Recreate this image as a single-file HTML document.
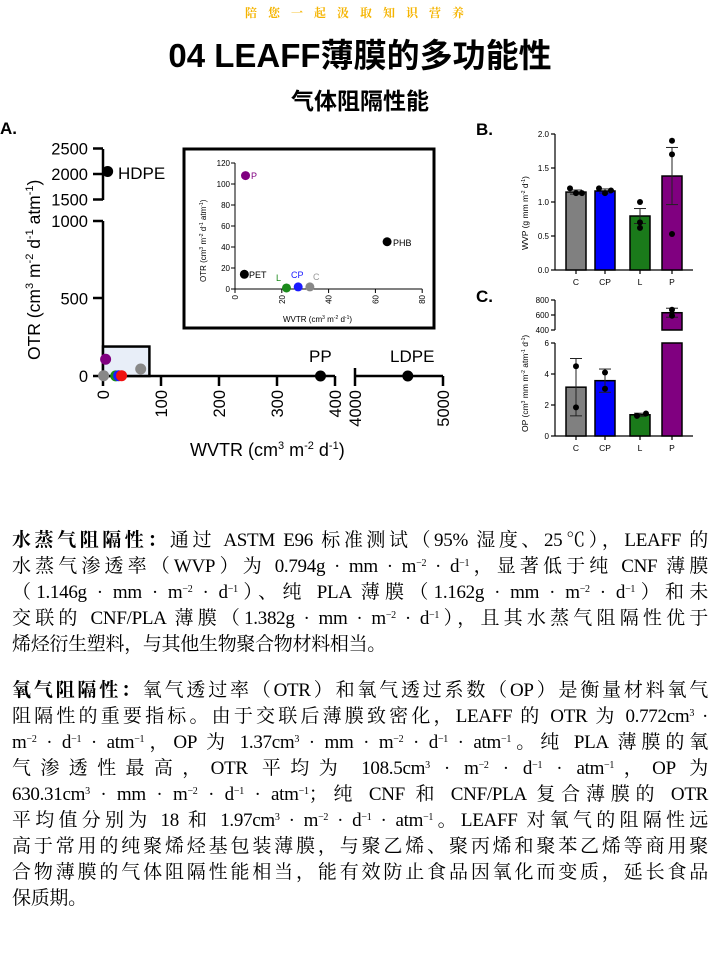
<!DOCTYPE html>
<html><head><meta charset="utf-8">
<style>
body{margin:0;width:720px;height:960px;background:#fff;overflow:hidden;position:relative;font-family:"Liberation Sans","Noto Sans CJK SC",sans-serif}
.top{position:absolute;top:4px;left:0;width:720px;text-align:center;color:#f5b400;font-size:12px;font-weight:bold;letter-spacing:11px;font-family:"Liberation Serif","Noto Serif CJK SC",serif}
.h1{position:absolute;top:29px;left:0;width:720px;text-align:center;font-size:33px;font-weight:bold;font-family:"Liberation Sans","Noto Sans CJK SC",sans-serif}
.h2{position:absolute;top:82px;left:0;width:720px;text-align:center;font-size:23px;font-weight:bold}
.p{position:absolute;left:12px;width:696px;font-family:"Liberation Serif","Noto Serif CJK SC",serif;font-size:19px;line-height:26px;color:#000}
.p div{text-align:justify;text-align-last:justify;white-space:nowrap;height:26px;letter-spacing:-0.3px}
.p div.last{text-align-last:left}
sup{font-size:10px;vertical-align:6px;line-height:0}
svg text{font-family:"Liberation Sans",sans-serif}
</style></head><body>
<div class="top">陪您一起汲取知识营养</div>
<div class="h1">04 LEAFF薄膜的多功能性</div>
<div class="h2">气体阻隔性能</div>

<svg id="chart" width="720" height="480" style="position:absolute;left:0;top:0"></svg>

<div class="p" style="top:528px">
<div><b>水蒸气阻隔性：</b>通过 ASTM E96 标准测试（95% 湿度、25℃），LEAFF 的</div>
<div>水蒸气渗透率（WVP）为 0.794g · mm · m<sup>−2</sup> · d<sup>−1</sup>，显著低于纯 CNF 薄膜</div>
<div>（1.146g · mm · m<sup>−2</sup> · d<sup>−1</sup>）、纯 PLA 薄膜（1.162g · mm · m<sup>−2</sup> · d<sup>−1</sup>）和未</div>
<div>交联的 CNF/PLA 薄膜（1.382g · mm · m<sup>−2</sup> · d<sup>−1</sup>），且其水蒸气阻隔性优于</div>
<div class="last">烯烃衍生塑料，与其他生物聚合物材料相当。</div>
</div>
<div class="p" style="top:678px">
<div><b>氧气阻隔性：</b>氧气透过率（OTR）和氧气透过系数（OP）是衡量材料氧气</div>
<div>阻隔性的重要指标。由于交联后薄膜致密化，LEAFF 的 OTR 为 0.772cm<sup>3</sup> ·</div>
<div>m<sup>−2</sup> · d<sup>−1</sup> · atm<sup>−1</sup>，OP 为 1.37cm<sup>3</sup> · mm · m<sup>−2</sup> · d<sup>−1</sup> · atm<sup>−1</sup>。纯 PLA 薄膜的氧</div>
<div>气渗透性最高，OTR 平均为 108.5cm<sup>3</sup> · m<sup>−2</sup> · d<sup>−1</sup> · atm<sup>−1</sup>，OP 为</div>
<div>630.31cm<sup>3</sup> · mm · m<sup>−2</sup> · d<sup>−1</sup> · atm<sup>−1</sup>；纯 CNF 和 CNF/PLA 复合薄膜的 OTR</div>
<div>平均值分别为 18 和 1.97cm<sup>3</sup> · m<sup>−2</sup> · d<sup>−1</sup> · atm<sup>−1</sup>。LEAFF 对氧气的阻隔性远</div>
<div>高于常用的纯聚烯烃基包装薄膜，与聚乙烯、聚丙烯和聚苯乙烯等商用聚</div>
<div>合物薄膜的气体阻隔性能相当，能有效防止食品因氧化而变质，延长食品</div>
<div class="last">保质期。</div>
</div>

<script>
// Panel A main scatter
const aNames = ["HDPE","PP","LDPE","P","C0","L","CP","C","PHB"];
const aWVTR = [8, 375, 4600, 4.5, 1, 22, 27, 32, 65];
const aOTR = [2050, 0, 0, 108, 2, 1, 2, 2, 45];
const aColors = ["#000","#000","#000","#800080","#888","#1a8a1a","#1a1aff","#f01010","#888"];
// Inset
const inNames = ["P","PHB","PET","L","CP","C"];
const inWVTR = [4.5, 65, 4, 22, 27, 32];
const inOTR = [108, 45, 14, 1, 2, 2];
const inColors = ["#800080","#000","#000","#1a8a1a","#1a1aff","#888"];
const inLabelColors = ["#800080","#000","#000","#1a8a1a","#1a1aff","#999"];
// Panel B
const bCats = ["C","CP","L","P"];
const bVals = [1.146, 1.162, 0.794, 1.382];
const bErr = [0.03, 0.03, 0.11, 0.42];
const bDots = [[1.2,1.13,1.13],[1.2,1.13,1.17],[1.0,0.7,0.62],[1.9,1.7,0.53]];
const barColors = ["#808080","#0000ff","#1a7a1a","#800080"];
const bTicks = [0,0.5,1.0,1.5,2.0];
// Panel C
const cVals = [3.15, 3.57, 1.37, 630.31];
const cErr = [1.85, 0.75, 0.1, 60];
const cDots = [[4.5,1.85],[4.1,3.05],[1.3,1.45],[670,590]];
const cLowTicks = [0,2,4,6];
const cHighTicks = [400,600,800];

const svg = document.getElementById('chart');
const NS = "http://www.w3.org/2000/svg";
function el(tag, attrs, parent){const e=document.createElementNS(NS,tag);for(const k in attrs)e.setAttribute(k,attrs[k]);(parent||svg).appendChild(e);return e;}
function txt(x,y,s,size,opts){const t=el('text',Object.assign({x:x,y:y,'font-size':size},opts||{}));t.textContent=s;return t;}

// ---------- Panel A ----------
txt(0,134,"A.",17,{'font-weight':'bold'});
const axA = x=> x<=400 ? 103 + x*0.58 : 355 + (x-4000)*0.088;
const ayA = y=> y<=1000 ? 376 - y*0.155 : 174 - (y-2000)*0.051;
const g = el('g',{stroke:'#000','stroke-width':2.5,fill:'none'});


el('line',{x1:103,y1:221,x2:103,y2:376},g);
el('line',{x1:93,y1:221,x2:103,y2:221},g);
el('line',{x1:93,y1:298,x2:103,y2:298},g);
el('line',{x1:93,y1:376,x2:335,y2:376},g);
el('line',{x1:103,y1:149,x2:103,y2:200},g);
[2500,2000,1500].forEach(v=>el('line',{x1:93,y1:ayA(v),x2:103,y2:ayA(v)},g));
[0,100,200,300,400].forEach(v=>el('line',{x1:axA(v),y1:376,x2:axA(v),y2:386},g));
el('line',{x1:355,y1:376,x2:443,y2:376},g);
el('line',{x1:355,y1:368,x2:355,y2:386},g);
el('line',{x1:443,y1:376,x2:443,y2:386},g);
[[2500,"2500"],[2000,"2000"],[1500,"1500"],[1000,"1000"],[500,"500"],[0,"0"]].forEach(([v,s])=>txt(88,ayA(v)+6,s,16.5,{'text-anchor':'end'}));
[[0,"0"],[100,"100"],[200,"200"],[300,"300"],[400,"400"],[4000,"4000"],[5000,"5000"]].forEach(([v,s])=>{
  const x=axA(v)+6;txt(x,390,s,16.5,{'text-anchor':'end',transform:`rotate(-90 ${x} 390)`});});
const yl=el('text',{x:0,y:0,'font-size':17.5,transform:'translate(40 360) rotate(-90)'});
yl.innerHTML='OTR (cm<tspan dy="-7" font-size="11">3</tspan><tspan dy="7"> m</tspan><tspan dy="-7" font-size="11">-2</tspan><tspan dy="7"> d</tspan><tspan dy="-7" font-size="11">-1</tspan><tspan dy="7"> atm</tspan><tspan dy="-7" font-size="11">-1</tspan><tspan dy="7">)</tspan>';
const xl=el('text',{x:190,y:456,'font-size':18});
xl.innerHTML='WVTR (cm<tspan dy="-7" font-size="11">3</tspan><tspan dy="7"> m</tspan><tspan dy="-7" font-size="11">-2</tspan><tspan dy="7"> d</tspan><tspan dy="-7" font-size="11">-1</tspan><tspan dy="7">)</tspan>';
// zoom box (0-80 x 0-190)
const zb=el('rect',{x:axA(0),y:ayA(190),width:axA(80)-axA(0),height:ayA(0)-ayA(190),fill:'#e8eef8',stroke:'#000','stroke-width':2.5});


const order=[4,3,5,6,7,8,0,1,2];
order.forEach(i=>{
  const c=el('circle',{cx:axA(aWVTR[i]),cy:ayA(aOTR[i]),r:5.5,fill:aColors[i]});
  
  
});
txt(118,179,"HDPE",17);
txt(309,362,"PP",17);
txt(390,362,"LDPE",17);

// Inset
const ib=el('rect',{x:184,y:149,width:250,height:179,fill:'#fff',stroke:'#000','stroke-width':3});


const ix=x=>235+x*2.34, iy=y=>289-y*1.05;
const ig=el('g',{stroke:'#000','stroke-width':1,fill:'none'});
el('line',{x1:235,y1:iy(120),x2:235,y2:289},ig);
el('line',{x1:235,y1:289,x2:ix(80),y2:289},ig);
[0,20,40,60,80,100,120].forEach(v=>{el('line',{x1:231,y1:iy(v),x2:235,y2:iy(v)},ig);txt(230,iy(v)+3,String(v),8,{'text-anchor':'end'});});
[0,20,40,60,80].forEach(v=>{el('line',{x1:ix(v),y1:289,x2:ix(v),y2:293},ig);const x=ix(v)+3;txt(x,295,String(v),8,{'text-anchor':'end',transform:`rotate(-90 ${x} 295)`});});
const iyl=el('text',{x:0,y:0,'font-size':8,transform:'translate(206 282) rotate(-90)'});
iyl.innerHTML='OTR (cm<tspan dy="-3" font-size="5">3</tspan><tspan dy="3"> m</tspan><tspan dy="-3" font-size="5">-2</tspan><tspan dy="3"> d</tspan><tspan dy="-3" font-size="5">-1</tspan><tspan dy="3"> atm</tspan><tspan dy="-3" font-size="5">-1</tspan><tspan dy="3">)</tspan>';
const ixl=el('text',{x:283,y:322,'font-size':8});
ixl.innerHTML='WVTR (cm<tspan dy="-3" font-size="5">3</tspan><tspan dy="3"> m</tspan><tspan dy="-3" font-size="5">-2</tspan><tspan dy="3"> d</tspan><tspan dy="-3" font-size="5">-1</tspan><tspan dy="3">)</tspan>';
inNames.forEach((n,i)=>{
  const c=el('circle',{cx:ix(inWVTR[i]),cy:iy(inOTR[i]),r:4.5,fill:inColors[i]});
  
  
});
txt(251,179,"P",9,{fill:inLabelColors[0]});
txt(393,246,"PHB",9,{fill:'#000'});
txt(249,278,"PET",9,{fill:'#000'});
txt(276,281,"L",9,{fill:inLabelColors[3]});
txt(291,278,"CP",9,{fill:inLabelColors[4]});
txt(313,280,"C",9,{fill:inLabelColors[5]});

// ---------- Panel B ----------
txt(476,135,"B.",17,{'font-weight':'bold'});
const bx=[576,605,640,672];
const by=v=>270-v*68;
const bg=el('g',{stroke:'#000','stroke-width':1.2,fill:'none'});
el('line',{x1:555,y1:134,x2:555,y2:270},bg);
el('line',{x1:555,y1:270,x2:693,y2:270},bg);
bTicks.forEach(v=>{el('line',{x1:551,y1:by(v),x2:555,y2:by(v)},bg);txt(549,by(v)+3,v.toFixed(1),8,{'text-anchor':'end'});});
bCats.forEach((c,i)=>{
  el('line',{x1:bx[i],y1:270,x2:bx[i],y2:274},bg);
  txt(bx[i],285,c,8.5,{'text-anchor':'middle'});
  const r=el('rect',{x:bx[i]-10,y:by(bVals[i]),width:20,height:by(0)-by(bVals[i]),fill:barColors[i],stroke:'#000','stroke-width':1.5});
  
  
  const e=el('g',{stroke:'#222','stroke-width':1});
  el('line',{x1:bx[i],y1:by(bVals[i]+bErr[i]),x2:bx[i],y2:by(bVals[i]-bErr[i])},e);
  el('line',{x1:bx[i]-6,y1:by(bVals[i]+bErr[i]),x2:bx[i]+6,y2:by(bVals[i]+bErr[i])},e);
  el('line',{x1:bx[i]-6,y1:by(bVals[i]-bErr[i]),x2:bx[i]+6,y2:by(bVals[i]-bErr[i])},e);
  const offs=[-4,0,4];
  bDots[i].forEach((d,j)=>el('circle',{cx:bx[i]+offs[j]*(i<2?1.5:0),cy:by(d),r:3,fill:'#000'}));
});
const byl=el('text',{x:0,y:0,'font-size':8.5,transform:'translate(528 250) rotate(-90)'});
byl.innerHTML='WVP (g mm m<tspan dy="-3" font-size="5">-2</tspan><tspan dy="3"> d</tspan><tspan dy="-3" font-size="5">-1</tspan><tspan dy="3">)</tspan>';

// ---------- Panel C ----------
txt(476,302,"C.",17,{'font-weight':'bold'});
const cyLow=v=>436-v*15.5;
const cyHigh=v=>330-(v-400)*0.075;
const cy=v=>v>6?cyHigh(v):cyLow(v);
const cg=el('g',{stroke:'#000','stroke-width':1.2,fill:'none'});
el('line',{x1:555,y1:343,x2:555,y2:436},cg);
el('line',{x1:555,y1:300,x2:555,y2:330},cg);
el('line',{x1:555,y1:436,x2:693,y2:436},cg);
cLowTicks.forEach(v=>{el('line',{x1:551,y1:cyLow(v),x2:555,y2:cyLow(v)},cg);txt(549,cyLow(v)+3,String(v),8,{'text-anchor':'end'});});
cHighTicks.forEach(v=>{el('line',{x1:551,y1:cyHigh(v),x2:555,y2:cyHigh(v)},cg);txt(549,cyHigh(v)+3,String(v),8,{'text-anchor':'end'});});
bCats.forEach((c,i)=>{
  el('line',{x1:bx[i],y1:436,x2:bx[i],y2:440},cg);
  txt(bx[i],451,c,8.5,{'text-anchor':'middle'});
  let r;
  if(cVals[i]>6){
    r=el('g',{});
    el('rect',{x:bx[i]-10,y:cyHigh(cVals[i]),width:20,height:330-cyHigh(cVals[i]),fill:barColors[i],stroke:'#000','stroke-width':1.5},r);
    el('rect',{x:bx[i]-10,y:343,width:20,height:93,fill:barColors[i],stroke:'#000','stroke-width':1.5},r);
  } else {
    r=el('rect',{x:bx[i]-10,y:cyLow(cVals[i]),width:20,height:436-cyLow(cVals[i]),fill:barColors[i],stroke:'#000','stroke-width':1.5});
  }
  
  
  const e=el('g',{stroke:'#222','stroke-width':1});
  const hi=cy(cVals[i]+cErr[i]), lo=cy(cVals[i]-cErr[i]);
  el('line',{x1:bx[i],y1:hi,x2:bx[i],y2:lo},e);
  el('line',{x1:bx[i]-6,y1:hi,x2:bx[i]+6,y2:hi},e);
  el('line',{x1:bx[i]-6,y1:lo,x2:bx[i]+6,y2:lo},e);
  const offs=i==2?[-3,6]:[0,0];
  cDots[i].forEach((d,j)=>el('circle',{cx:bx[i]+offs[j],cy:cy(d),r:3,fill:'#000'}));
});
const cyl=el('text',{x:0,y:0,'font-size':8.5,transform:'translate(528 432) rotate(-90)'});
cyl.innerHTML='OP (cm<tspan dy="-3" font-size="5">3</tspan><tspan dy="3"> mm m</tspan><tspan dy="-3" font-size="5">-2</tspan><tspan dy="3"> atm</tspan><tspan dy="-3" font-size="5">-1</tspan><tspan dy="3"> d</tspan><tspan dy="-3" font-size="5">-1</tspan><tspan dy="3">)</tspan>';
</script>
</body></html>
